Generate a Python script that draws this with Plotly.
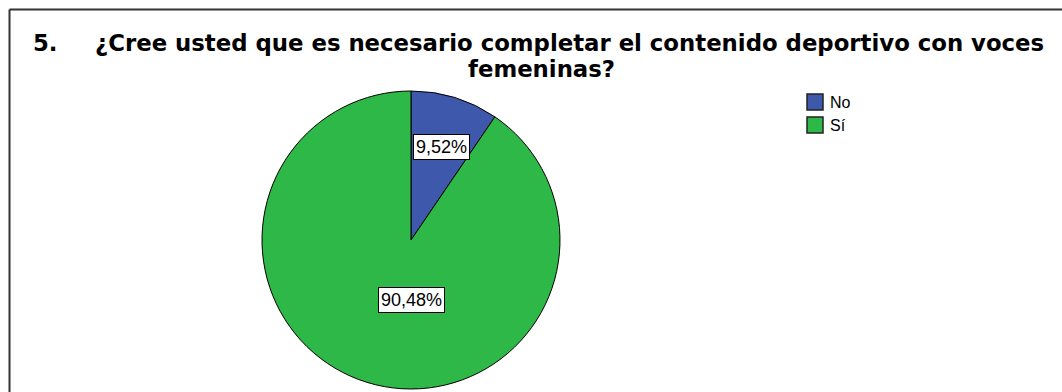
import plotly.graph_objects as go

# ---- data ----
categories = ["No", "Sí"]
percentages = [9.52, 90.48]
slice_labels = ["9,52%", "90,48%"]
colors = ["#3E58AC", "#2EB848"]
title_number = "5."
title_line1 = "¿Cree usted que es necesario completar el contenido deportivo con voces"
title_line2 = "femeninas?"

W, H = 1062, 392


def px(x):
    return x / W


def py(y):
    return 1 - y / H


# pie geometry (pixels)
cx, cy, r = 411, 240, 149

fig = go.Figure()
fig.add_trace(go.Pie(
    labels=categories,
    values=percentages,
    marker=dict(colors=colors, line=dict(color="#000000", width=1)),
    sort=False,
    direction="clockwise",
    rotation=0,
    textinfo="none",
    hoverinfo="label+percent",
    showlegend=False,
    domain=dict(x=[px(cx - r), px(cx + r)], y=[py(cy + r), py(cy - r)]),
))

annotations = []
shapes = []

# slice labels (boxed)
label_pos = [(441, 147), (411, 300)]
for txt, (lx, ly) in zip(slice_labels, label_pos):
    annotations.append(dict(
        x=px(lx), y=py(ly), xref="paper", yref="paper",
        text=txt, showarrow=False, xanchor="center", yanchor="middle",
        font=dict(family="Liberation Sans, Arial", size=18, color="#000000"),
        bgcolor="#ffffff", bordercolor="#000000", borderwidth=1, borderpad=2,
    ))

# title
tfont = dict(family="DejaVu Sans", size=22.8, color="#000000", weight="bold")
annotations.append(dict(x=px(31), y=py(43.5), xref="paper", yref="paper",
                        text="<b>" + title_number + "</b>", showarrow=False,
                        xanchor="left", yanchor="middle", font=tfont))
annotations.append(dict(x=px(569.5), y=py(43.5), xref="paper", yref="paper",
                        text="<b>" + title_line1 + "</b>", showarrow=False,
                        xanchor="center", yanchor="middle", font=tfont))
annotations.append(dict(x=px(541.5), y=py(68.5), xref="paper", yref="paper",
                        text="<b>" + title_line2 + "</b>", showarrow=False,
                        xanchor="center", yanchor="middle", font=tfont))

# legend (custom, built from categories/colors)
lx0, ly0, size, step = 807, 94, 16, 23
for i, (cat, col) in enumerate(zip(categories, colors)):
    y0 = ly0 + i * step
    shapes.append(dict(type="rect", xref="paper", yref="paper",
                       x0=px(lx0), x1=px(lx0 + size), y0=py(y0 + size), y1=py(y0),
                       fillcolor=col, line=dict(color="#222222", width=1.5)))
    annotations.append(dict(x=px(lx0 + size + 5), y=py(y0 + size / 2), xref="paper", yref="paper",
                            text=cat, showarrow=False, xanchor="left", yanchor="middle",
                            font=dict(family="Liberation Sans, Arial", size=16, color="#000000")))

# frame (top and left edges)
shapes.append(dict(type="line", xref="paper", yref="paper",
                   x0=px(9.5), x1=1, y0=py(9.5), y1=py(9.5),
                   line=dict(color="#333333", width=2)))
shapes.append(dict(type="line", xref="paper", yref="paper",
                   x0=px(9.5), x1=px(9.5), y0=py(9.5), y1=0,
                   line=dict(color="#333333", width=2)))

fig.update_layout(
    width=W, height=H,
    margin=dict(l=0, r=0, t=0, b=0),
    paper_bgcolor="#ffffff",
    plot_bgcolor="#ffffff",
    annotations=annotations,
    shapes=shapes,
    showlegend=False,
)

fig.write_html("out.html")
